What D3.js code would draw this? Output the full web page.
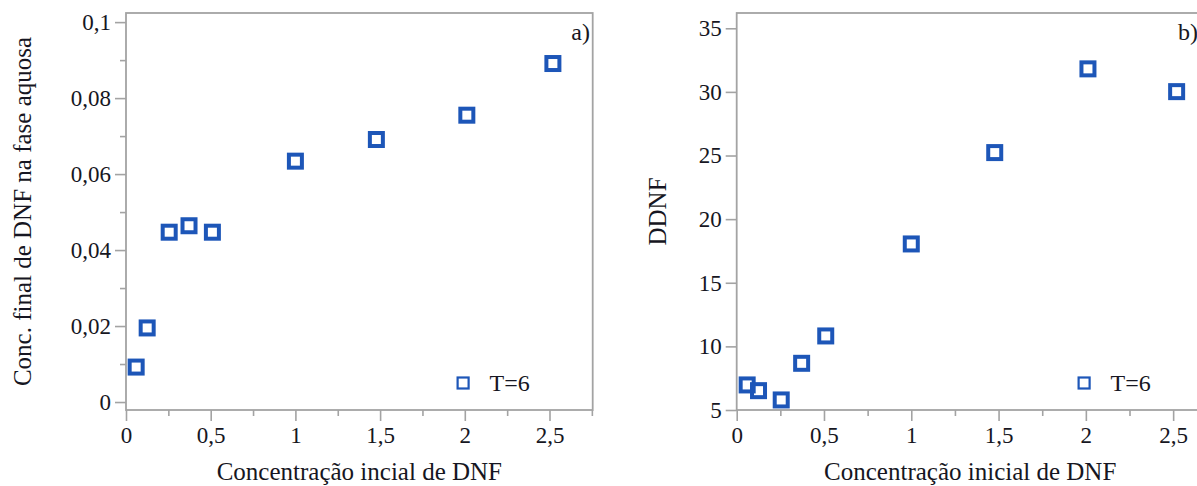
<!DOCTYPE html>
<html>
<head>
<meta charset="utf-8">
<title>DNF</title>
<script src="https://cdn.jsdelivr.net/npm/d3@7"></script>
<style>
body { margin: 0; background: #fff; }
svg text { font-family: "Liberation Serif", "Times New Roman", serif; fill: #161622; }
.tick line { stroke: #a3a3a3; stroke-width: 1.6; }
.tick text { font-size: 23px; }
</style>
</head>
<body>
<script>
// concentração inicial de DNF (x), same for both panels
var concInicial = [0.06, 0.125, 0.255, 0.372, 0.51, 1.0, 1.478, 2.012, 2.52];
// a) conc. final de DNF na fase aquosa
var concFinal = [0.0092, 0.0195, 0.0447, 0.0464, 0.0447, 0.0634, 0.0691, 0.0755, 0.0891];
// b) DDNF
var ddnf = [6.97, 6.52, 5.79, 8.67, 10.82, 18.05, 25.23, 31.81, 30.02];

var xMajor = [0, 0.5, 1, 1.5, 2, 2.5];
var xMinor = [0.25, 0.75, 1.25, 1.75, 2.25, 2.75];
var yMajorA = [0, 0.02, 0.04, 0.06, 0.08, 0.1];
var yMinorA = [0.01, 0.03, 0.05, 0.07, 0.09];
var yMajorB = [5, 10, 15, 20, 25, 30, 35];

var legendLabel = "T=6";
var blue = "#1d56b8";

var w = 1197, h = 486;
var plotTop = 13, plotBottom = 410;
var svg = d3.select("body").append("svg").attr("width", w).attr("height", h);

var fmt = function(d){ return String(+d.toFixed(3)).replace(".", ","); };

function panel(opt) {
	var x = d3.scaleLinear().domain(opt.xdom).range([opt.left, opt.left + opt.width]);
	var y = d3.scaleLinear().domain(opt.ydom).range([plotBottom, plotTop]);
	var g = svg.append("g");

	// frame
	g.append("rect")
		.attr("x", opt.left).attr("y", plotTop)
		.attr("width", opt.width).attr("height", plotBottom - plotTop)
		.attr("fill", "none").attr("stroke", "#a3a3a3").attr("stroke-width", 1.8);

	// minor ticks first
	g.append("g").attr("transform", "translate(0," + plotBottom + ")")
		.call(d3.axisBottom(x).tickValues(xMinor).tickSize(6).tickFormat(""))
		.call(function(s){ s.select(".domain").remove(); });
	if (opt.yminor) {
		g.append("g").attr("transform", "translate(" + opt.left + ",0)")
			.call(d3.axisLeft(y).tickValues(opt.yminor).tickSize(6).tickFormat(""))
			.call(function(s){ s.select(".domain").remove(); });
	}
	// major ticks
	g.append("g").attr("transform", "translate(0," + plotBottom + ")")
		.call(d3.axisBottom(x).tickValues(xMajor).tickSize(11).tickPadding(6).tickFormat(fmt))
		.call(function(s){ s.select(".domain").remove(); });
	g.append("g").attr("transform", "translate(" + opt.left + ",0)")
		.call(d3.axisLeft(y).tickValues(opt.ymajor).tickSize(11).tickPadding(4).tickFormat(fmt))
		.call(function(s){ s.select(".domain").remove(); });

	// points
	g.selectAll("rect.pt").data(opt.values).enter().append("rect")
		.attr("class", "pt")
		.attr("x", function(d,i){ return x(concInicial[i]) - 6.5; })
		.attr("y", function(d){ return y(d) - 6.5; })
		.attr("width", 13).attr("height", 13)
		.attr("fill", "none").attr("stroke", blue).attr("stroke-width", 4);

	// legend
	var lx = x(1.99), ly = plotBottom - 27;
	g.append("rect").attr("x", lx - 5.5).attr("y", ly - 5.5).attr("width", 11).attr("height", 11)
		.attr("fill", "none").attr("stroke", blue).attr("stroke-width", 2.2);
	g.append("text").attr("x", lx + 26.5).attr("y", ly + 8).attr("font-size", 24).text(legendLabel);

	// titles
	g.append("text")
		.attr("x", opt.left + opt.width / 2).attr("y", 480)
		.attr("text-anchor", "middle").attr("font-size", 25)
		.text(opt.xtitle);
	g.append("text")
		.attr("transform", "translate(" + opt.ytx + "," + ((plotTop + plotBottom) / 2) + ") rotate(-90)")
		.attr("text-anchor", "middle").attr("dy", "0.35em").attr("font-size", 25)
		.text(opt.ytitle);
	g.append("text")
		.attr("x", opt.tagx).attr("y", 40).attr("text-anchor", opt.taganchor)
		.attr("font-size", 24).text(opt.tag);
}

panel({
	left: 126, width: 466.7,
	xdom: [0, 2.755], ydom: [-0.0021, 0.1024],
	ymajor: yMajorA, yminor: yMinorA, values: concFinal,
	xtitle: "Concentração incial de DNF",
	ytitle: "Conc. final de DNF na fase aquosa", ytx: 22,
	tag: "a)", tagx: 590, taganchor: "end"
});

panel({
	left: 736.7, width: 467,
	xdom: [0, 2.675], ydom: [5, 36.2],
	ymajor: yMajorB, yminor: null, values: ddnf,
	xtitle: "Concentração inicial de DNF",
	ytitle: "DDNF", ytx: 657,
	tag: "b)", tagx: 1178, taganchor: "start"
});
</script>
</body>
</html>
